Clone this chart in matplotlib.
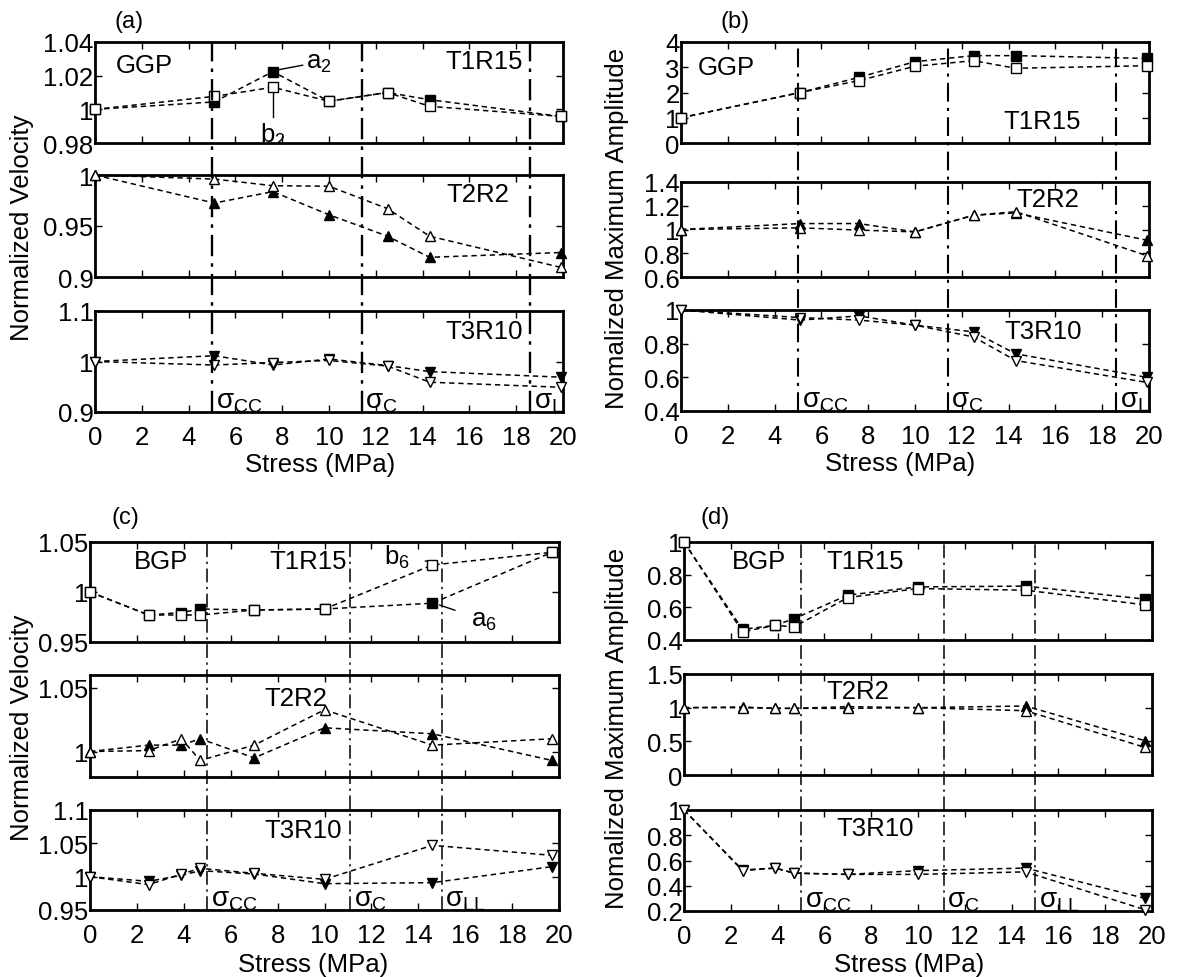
import matplotlib
matplotlib.use("Agg")
import matplotlib.pyplot as plt

plt.rcParams['font.family'] = 'Liberation Sans'
plt.rcParams['mathtext.fontset'] = 'custom'
plt.rcParams['mathtext.rm'] = 'Liberation Sans'
plt.rcParams['mathtext.it'] = 'Liberation Sans:italic'
plt.rcParams['font.size'] = 16

# stress steps (MPa)
stress_ggp = [0, 5.1, 7.6, 10.0, 12.5, 14.3, 19.9]
stress_bgp = [0, 2.5, 3.9, 4.7, 7.0, 10.0, 14.6, 19.7]

# critical stresses: sigma_CC, sigma_C, sigma_LL
crit_ggp = [5.0, 11.4, 18.6]
crit_bgp = [5.0, 11.1, 15.0]
crit_names = [r'$\mathrm{\sigma}_{\mathrm{CC}}$', r'$\mathrm{\sigma}_{\mathrm{C}}$', r'$\mathrm{\sigma}_{\mathrm{LL}}$']

# (a) GGP, normalized velocity  (a = filled, b = open)
vel_ggp_t1r15_a = [1.0, 1.0044, 1.0224, 1.0048, 1.0100, 1.0057, 0.9958]
vel_ggp_t1r15_b = [1.0, 1.0077, 1.0131, 1.0048, 1.0100, 1.0018, 0.9958]
vel_ggp_t2r2_a = [1.0, 0.9725, 0.9837, 0.961, 0.940, 0.9193, 0.924]
vel_ggp_t2r2_b = [1.0, 0.996, 0.9895, 0.989, 0.967, 0.940, 0.9095]
vel_ggp_t3r10_a = [1.0, 1.0115, 0.993, 1.005, 0.992, 0.980, 0.969]
vel_ggp_t3r10_b = [1.0, 0.993, 0.998, 1.002, 0.991, 0.959, 0.949]

# (b) GGP, normalized maximum amplitude
amp_ggp_t1r15_a = [1.0, 2.0, 2.6, 3.22, 3.46, 3.46, 3.35]
amp_ggp_t1r15_b = [1.0, 2.0, 2.47, 3.04, 3.26, 2.96, 3.06]
amp_ggp_t2r2_a = [1.0, 1.05, 1.05, 0.98, 1.12, 1.14, 0.91]
amp_ggp_t2r2_b = [1.0, 1.014, 0.995, 0.98, 1.12, 1.15, 0.78]
amp_ggp_t3r10_a = [1.0, 0.94, 0.965, 0.91, 0.87, 0.74, 0.60]
amp_ggp_t3r10_b = [1.0, 0.955, 0.94, 0.91, 0.84, 0.70, 0.57]

# (c) BGP, normalized velocity
vel_bgp_t1r15_a = [1.0, 0.977, 0.9795, 0.983, 0.982, 0.983, 0.9888, 1.0397]
vel_bgp_t1r15_b = [1.0, 0.977, 0.977, 0.977, 0.982, 0.983, 1.027, 1.0397]
vel_bgp_t2r2_a = [1.0, 1.005, 1.005, 1.010, 0.995, 1.0186, 1.0139, 0.993]
vel_bgp_t2r2_b = [1.0, 1.0007, 1.0099, 0.993, 1.005, 1.0327, 1.005, 1.010]
vel_bgp_t3r10_a = [1.0, 0.993, 1.002, 1.009, 1.004, 0.9895, 0.991, 1.015]
vel_bgp_t3r10_b = [1.0, 0.988, 1.004, 1.0125, 1.005, 0.996, 1.047, 1.032]

# (d) BGP, normalized maximum amplitude
amp_bgp_t1r15_a = [1.0, 0.465, 0.49, 0.53, 0.675, 0.725, 0.73, 0.65]
amp_bgp_t1r15_b = [1.0, 0.45, 0.49, 0.48, 0.66, 0.715, 0.705, 0.615]
amp_bgp_t2r2_a = [1.0, 1.01, 0.99, 0.99, 1.015, 1.0, 1.025, 0.51]
amp_bgp_t2r2_b = [1.0, 1.0, 0.99, 0.99, 0.99, 1.0, 0.955, 0.41]
amp_bgp_t3r10_a = [1.0, 0.525, 0.54, 0.50, 0.49, 0.52, 0.54, 0.30]
amp_bgp_t3r10_b = [1.0, 0.52, 0.54, 0.50, 0.49, 0.49, 0.51, 0.21]

W, H = 1181, 978
fig = plt.figure(figsize=(W / 100, H / 100), dpi=100)

FS_TICK = 18.5
FS_LBL = 18.5
FS_TAG = 18.5


def rect(l, t, r, b):
    return [l / W, 1 - b / H, (r - l) / W, (b - t) / H]


def panel(xl, xr, rows, xs, crit, spec, ylabel, letter, letter_xy, xlab_xy, vlw):
    axes = []
    for (t, b), (ya, yb, mk, ylim, yticks, tag) in zip(rows, spec):
        ax = fig.add_axes(rect(xl, t, xr, b))
        ax.set_facecolor('none')
        ax.plot(xs, ya, color='k', ls='--', dashes=(3.5, 2.5), lw=1.1,
                marker=mk, ms=6.5, mfc='k', mec='k', clip_on=False, zorder=3)
        ax.plot(xs, yb, color='k', ls='--', dashes=(3.5, 2.5), lw=1.1,
                marker=mk, ms=6.5, mfc='w', mec='k', mew=1.0, clip_on=False, zorder=4)
        ax.set_xlim(0, 20)
        ax.set_ylim(*ylim)
        ax.set_xticks(range(0, 21, 2))
        ax.set_yticks(yticks)
        ax.set_yticklabels(['%g' % v for v in yticks])
        ax.tick_params(direction='in', top=True, right=True, length=5,
                       width=1.0, labelsize=FS_TICK)
        ax.tick_params(axis='y', pad=1)
        ax.tick_params(axis='x', pad=9.5)
        for s in ax.spines.values():
            s.set_linewidth(2.0)
        txt, tx, ty, ha = tag
        ax.text(tx, ty, txt, transform=ax.transAxes, ha=ha, va='center',
                fontsize=FS_TAG)
        axes.append(ax)
    for ax in axes[:-1]:
        ax.tick_params(labelbottom=False)
    # critical stress lines across the stacked subplots
    top = rows[0][0]
    bot = rows[-1][1]
    ov = fig.add_axes(rect(xl, top, xr, bot))
    ov.set_xlim(0, 20)
    ov.set_ylim(0, 1)
    ov.set_axis_off()
    for c in crit:
        ov.axvline(c, color='k', lw=vlw, ls=(0, (9, 3, 1.5, 3)))
    for c, name in zip(crit, crit_names):
        axes[-1].text(c + 0.15, 0.04, name, transform=axes[-1].get_xaxis_transform(),
                      ha='left', va='baseline', fontsize=20, clip_on=True)
    fig.text(ylabel[0] / W, 1 - ylabel[1] / H, ylabel[2], rotation=90,
             ha='center', va='center', fontsize=FS_LBL)
    fig.text(letter_xy[0] / W, 1 - letter_xy[1] / H, letter, ha='center',
             va='center', fontsize=17)
    fig.text(xlab_xy[0] / W, 1 - xlab_xy[1] / H, 'Stress (MPa)', ha='center',
             va='center', fontsize=FS_LBL)
    return axes


# (a)
rows_a = [(43, 144), (176, 278), (312, 413)]
spec_a = [
    (vel_ggp_t1r15_a, vel_ggp_t1r15_b, 's', (0.98, 1.04), [0.98, 1, 1.02, 1.04],
     ('GGP', 0.045, 0.77, 'left')),
    (vel_ggp_t2r2_a, vel_ggp_t2r2_b, '^', (0.9, 1.0), [0.9, 0.95, 1],
     ('T2R2', 0.75, 0.81, 'left')),
    (vel_ggp_t3r10_a, vel_ggp_t3r10_b, 'v', (0.9, 1.1), [0.9, 1, 1.1],
     ('T3R10', 0.915, 0.80, 'right')),
]
ax_a = panel(95, 563, rows_a, stress_ggp, crit_ggp, spec_a,
             (22, 228, 'Normalized Velocity'), '(a)', (129, 22), (320, 465), 1.7)
ax_a[0].text(0.915, 0.81, 'T1R15', transform=ax_a[0].transAxes, ha='right',
             va='center', fontsize=FS_TAG)
ax_a[0].annotate('a$_2$', xy=(7.8, 1.0234), xytext=(9.0, 1.028), fontsize=FS_TAG,
                 va='center', arrowprops=dict(arrowstyle='-', color='k', lw=1.0,
                                              shrinkA=0, shrinkB=0))
ax_a[0].plot([7.6, 7.6], [1.011, 0.9955], color='k', lw=1.0)
ax_a[0].text(7.6, 0.993, 'b$_2$', ha='center', va='top', fontsize=FS_TAG, clip_on=True)

# (b)
rows_b = [(43, 144), (183, 278), (311, 412)]
spec_b = [
    (amp_ggp_t1r15_a, amp_ggp_t1r15_b, 's', (0, 4), [0, 1, 2, 3, 4],
     ('GGP', 0.036, 0.75, 'left')),
    (amp_ggp_t2r2_a, amp_ggp_t2r2_b, '^', (0.6, 1.4), [0.6, 0.8, 1, 1.2, 1.4],
     ('T2R2', 0.716, 0.82, 'left')),
    (amp_ggp_t3r10_a, amp_ggp_t3r10_b, 'v', (0.4, 1.0), [0.4, 0.6, 0.8, 1],
     ('T3R10', 0.692, 0.79, 'left')),
]
ax_b = panel(681, 1149, rows_b, stress_ggp, crit_ggp, spec_b,
             (617, 228, 'Nomalized Maximum Amplitude'), '(b)', (735, 22), (900, 464), 1.5)
ax_b[0].text(0.688, 0.22, 'T1R15', transform=ax_b[0].transAxes, ha='left',
             va='center', fontsize=FS_TAG)

# (c)
rows_c = [(543, 643), (676, 778), (811, 911)]
spec_c = [
    (vel_bgp_t1r15_a, vel_bgp_t1r15_b, 's', (0.95, 1.05), [0.95, 1, 1.05],
     ('BGP', 0.094, 0.81, 'left')),
    (vel_bgp_t2r2_a, vel_bgp_t2r2_b, '^', (0.98, 1.06), [1, 1.05],
     ('T2R2', 0.371, 0.775, 'left')),
    (vel_bgp_t3r10_a, vel_bgp_t3r10_b, 'v', (0.95, 1.1), [0.95, 1, 1.05, 1.1],
     ('T3R10', 0.371, 0.80, 'left')),
]
ax_c = panel(90, 559, rows_c, stress_bgp, crit_bgp, spec_c,
             (22, 728, 'Normalized Velocity'), '(c)', (125, 518), (313, 965), 1.1)
ax_c[0].text(0.382, 0.81, 'T1R15', transform=ax_c[0].transAxes, ha='left',
             va='center', fontsize=FS_TAG)
ax_c[0].annotate('b$_6$', xy=(14.55, 1.030), xytext=(13.1, 1.036), fontsize=FS_TAG,
                 ha='center', va='center',
                 arrowprops=dict(arrowstyle='-', color='k', lw=1.0, shrinkA=9, shrinkB=0))
ax_c[0].annotate('a$_6$', xy=(14.9, 0.987), xytext=(16.8, 0.972), fontsize=FS_TAG,
                 ha='center', va='center',
                 arrowprops=dict(arrowstyle='-', color='k', lw=1.0, shrinkA=10, shrinkB=0))

# (d)
rows_d = [(543, 641), (675, 776), (811, 912)]
spec_d = [
    (amp_bgp_t1r15_a, amp_bgp_t1r15_b, 's', (0.4, 1.0), [0.4, 0.6, 0.8, 1],
     ('BGP', 0.103, 0.81, 'left')),
    (amp_bgp_t2r2_a, amp_bgp_t2r2_b, '^', (0, 1.5), [0, 0.5, 1, 1.5],
     ('T2R2', 0.305, 0.83, 'left')),
    (amp_bgp_t3r10_a, amp_bgp_t3r10_b, 'v', (0.2, 1.0), [0.2, 0.4, 0.6, 0.8, 1],
     ('T3R10', 0.325, 0.82, 'left')),
]
ax_d = panel(684, 1152, rows_d, stress_bgp, crit_bgp, spec_d,
             (617, 728, 'Nomalized Maximum Amplitude'), '(d)', (715, 518), (909, 965), 1.1)
ax_d[0].text(0.305, 0.81, 'T1R15', transform=ax_d[0].transAxes, ha='left',
             va='center', fontsize=FS_TAG)

fig.savefig('out.png', dpi=100)
